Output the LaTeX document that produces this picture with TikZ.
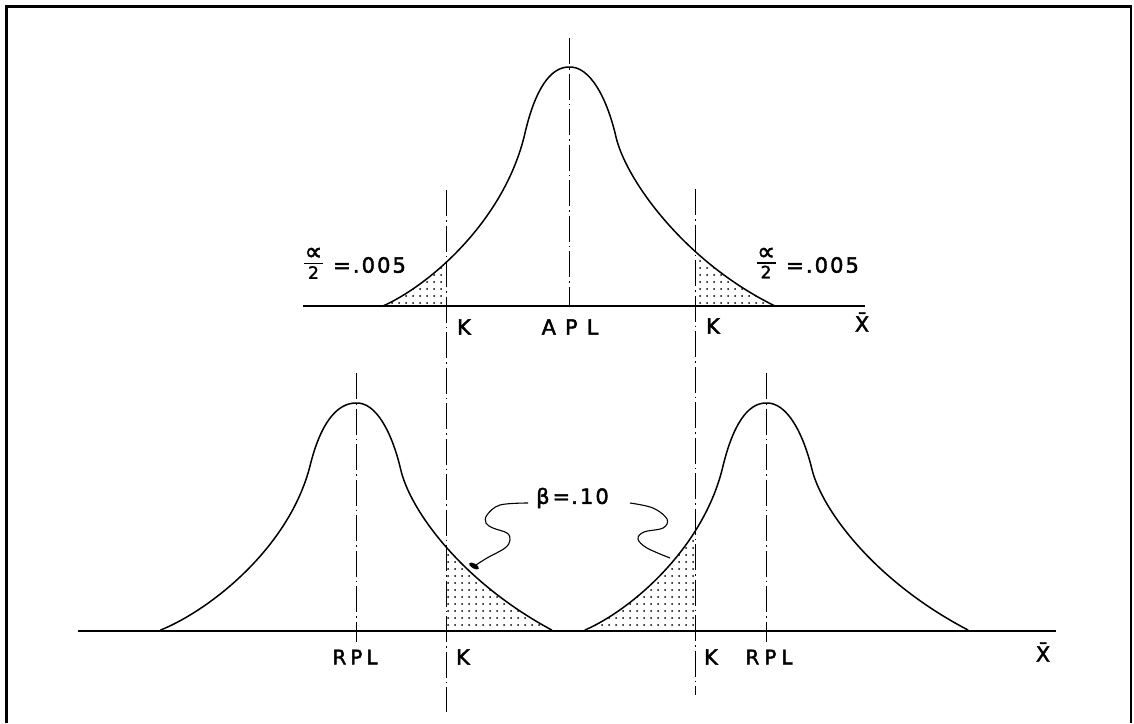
\documentclass[tikz,border=0pt]{standalone}
\usepackage{fontspec}
\setmainfont{DejaVu Sans}
\newfontfamily\lettering[LetterSpace=10,FakeBold=2]{DejaVu Sans}
\newfontfamily\symfont[FakeBold=2]{DejaVu Sans}
\usetikzlibrary{patterns.meta}
\begin{document}
\begin{tikzpicture}[x=1pt,y=-1pt,
  curve/.style={line width=1.5pt,line join=round,line cap=round},
  axisline/.style={line width=2.2pt},
  guide/.style={line width=0.8pt,dash pattern=on 26pt off 4pt on 1.5pt off 4pt},
  dotfill/.style={pattern={Dots[distance=7pt,radius=1pt]}},
  lab/.style={font=\fontsize{21}{21}\lettering,inner sep=0pt},
  small/.style={font=\fontsize{20}{20}\lettering,inner sep=0pt},
  fracsym/.style={font=\fontsize{25}{25}\symfont,inner sep=0pt},
  fracnum/.style={font=\fontsize{17}{17}\symfont,inner sep=0pt},
  leader/.style={line width=1.1pt}]
\useasboundingbox (0,0) rectangle (1134,723);
% frame
\draw[line width=2.4pt] (6.5,723) -- (6.5,6.5) -- (1131,6.5) -- (1131,723);

\def\topcurve{(383,306) .. controls (430,285) and (505,220) .. (525,133)
  .. controls (535,90) and (550,67) .. (569,67)
  .. controls (590,66) and (607,98) .. (616,137)
  .. controls (626,180) and (685,262) .. (775,306)}
\def\leftcurve{(160.7,630) .. controls (210,610) and (289,548) .. (310,466)
  .. controls (320,425) and (336,403) .. (356,403)
  .. controls (376,402) and (392,432.4) .. (400.7,469.5)
  .. controls (410,510) and (461.5,581.5) .. (551.7,630)}
\def\rightcurve{(585,630) .. controls (631,610) and (703.7,548.3) .. (723,466)
  .. controls (733,425) and (747.5,403) .. (766,403)
  .. controls (786.6,402) and (803,432.4) .. (812,469.5)
  .. controls (822,510) and (875,581.5) .. (968,630)}

% shaded tails
\begin{scope}\clip (380,200) rectangle (446.7,306);\fill[dotfill] \topcurve -- cycle;\end{scope}
\begin{scope}\clip (695,200) rectangle (780,306);\fill[dotfill] \topcurve -- cycle;\end{scope}
\begin{scope}\clip (446.7,480) rectangle (555,630);\fill[dotfill] \leftcurve -- cycle;\end{scope}
\begin{scope}\clip (580,480) rectangle (695,630);\fill[dotfill] \rightcurve -- cycle;\end{scope}

% guide lines
\coordinate (c1a) at (569,38);   \coordinate (c1b) at (569,306);
\coordinate (k1a) at (446.7,190); \coordinate (k1b) at (446.7,712);
\coordinate (k2a) at (695,189);  \coordinate (k2b) at (695,695);
\coordinate (r1a) at (356,373);  \coordinate (r1b) at (356,642);
\coordinate (r2a) at (766,373);  \coordinate (r2b) at (766,642);
\draw[guide] (c1a) -- (c1b);
\draw[guide] (k1a) -- (k1b);
\draw[guide] (k2a) -- (k2b);
\draw[guide] (r1a) -- (r1b);
\draw[guide] (r2a) -- (r2b);

% axes
\coordinate (ta) at (303,306); \coordinate (tb) at (865,306);
\coordinate (ba) at (78,631);  \coordinate (bb) at (1056,631);
\draw[axisline] (ta) -- (tb);
\draw[axisline] (ba) -- (bb);

% curves
\draw[curve] \topcurve;
\draw[curve] \leftcurve;
\draw[curve] \rightcurve;

% top labels: alpha/2 = .005
\node[fracsym] (al) at (313.5,254) {∝};
\node[fracnum] (tl) at (313.5,272.5) {2};
\coordinate (bl1) at (304,263.5); \coordinate (bl2) at (323,263.5);
\draw[line width=1.8pt] (bl1) -- (bl2);
\node[lab,anchor=west] (vl) at (333,265) {=.005};
\node[fracsym] (ar) at (766,254) {∝};
\node[fracnum] (tr) at (766,272) {2};
\coordinate (br1) at (756.5,263); \coordinate (br2) at (775.5,263);
\draw[line width=1.8pt] (br1) -- (br2);
\node[lab,anchor=west] (vr) at (786,265) {=.005};

\node[lab] (tk1) at (464,327) {K};
\node[lab] (apl) at (570,327) {A\hspace{9pt}P\hspace{9pt}L};
\node[lab] (tk2) at (713,326) {K};
\node[lab] (tx) at (862,322) {X̄};

% bottom labels
\node[small] (rpl1) at (355,657) {R\hspace{4pt}P\hspace{4pt}L};
\node[lab] (bk1) at (463,657) {K};
\node[lab] (bk2) at (711,657) {K};
\node[small] (rpl2) at (769,657) {R\hspace{5pt}P\hspace{5pt}L};
\node[lab] (bx) at (1043,652) {X̄};

% beta label and leaders
\node[lab,anchor=west] (beta) at (536,498) {β\hspace{3pt}=\hspace{1pt}.10};
\draw[leader] plot[smooth,tension=0.6] coordinates {(528,503) (500,505) (487,515) (486,523) (493,528) (507,533) (510,540) (505,548) (487,558) (476,565)};
\fill[rotate around={-30:(474,566)}] (474,566) ellipse (5.5pt and 2.5pt);
\draw[leader] plot[smooth,tension=0.6] coordinates {(630,503) (653,508) (667,519) (663,528) (644,532) (638,539) (647,548) (670,558)};
\end{tikzpicture}
\end{document}
